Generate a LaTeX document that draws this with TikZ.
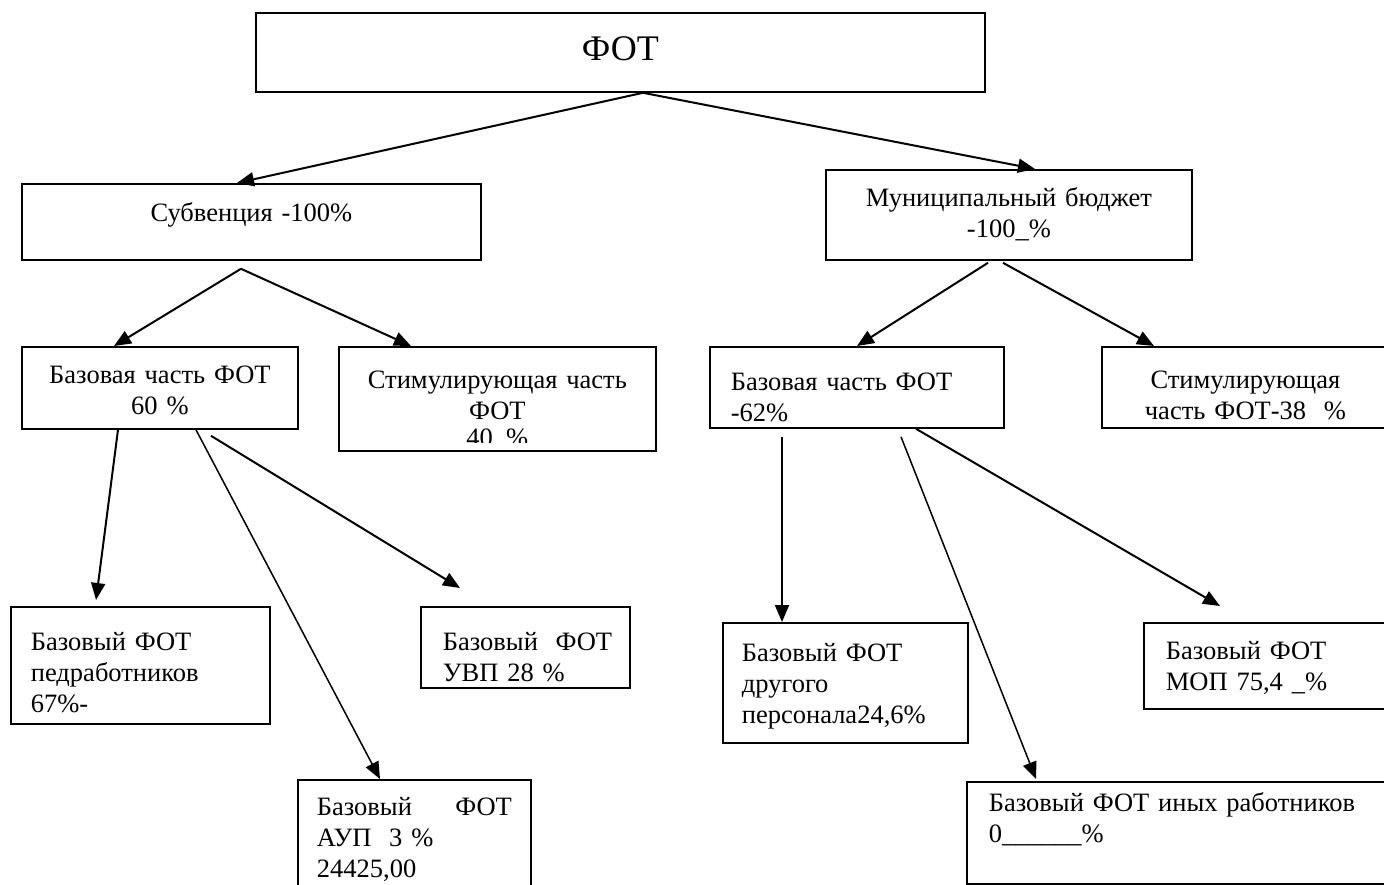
\documentclass[tikz,border=0pt]{standalone}
\usepackage{fontspec}
\setmainfont{Liberation Serif}
\usetikzlibrary{arrows.meta}

\begin{document}
\begin{tikzpicture}[x=1pt,y=-1pt,
  font=\fontsize{26.5}{31}\selectfont,
  box/.style={draw,line width=1.8pt,anchor=north west,inner ysep=0pt},
  arr/.style={-{Triangle[length=17pt,width=14pt]},line width=2pt},
  thinarr/.style={arr,line width=1.5pt}]
  \useasboundingbox (0,0) rectangle (1384,885);

  % create the nodes
  \node (fot) [box,text width=729pt,inner xsep=0pt,align=center,text height=48pt,text depth=31pt,font=\fontsize{36}{40}\selectfont] at (255,12) {ФОТ};

  \node (subv) [box,text width=459pt,inner xsep=0pt,align=center,text height=38pt,text depth=38pt] at (21,183) {Субвенция -100\%};
  \node (mun) [box,text width=366pt,inner xsep=0pt,align=center,text height=37pt,text depth=53pt] at (825,169) {Муниципальный бюджет\\-100\_\%};

  \node (bazS) [box,text width=276pt,inner xsep=0pt,align=center,text height=37pt,text depth=45pt] at (21,346) {Базовая часть ФОТ\hspace*{12pt}\\60 \%};
  \node (stimS) [box,text width=317pt,inner xsep=0pt,align=center,text height=42pt,text depth=62pt] at (338,346) {Стимулирующая часть\\ФОТ};
  \node (bazM) [box,text width=252pt,inner xsep=21pt,align=left,text height=44pt,text depth=37pt] at (709,346) {Базовая часть ФОТ\\-62\%};
  \node (stimM) [box,text width=287pt,inner xsep=0pt,align=center,text height=42pt,text depth=39pt] at (1101,346) {Стимулирующая\\часть ФОТ-38~~\%};

  \node (ped) [box,text width=219pt,inner xsep=20pt,align=left,text height=44pt,text depth=73pt] at (10,606) {Базовый ФОТ\\педработников\\67\%-};
  \node (uvp) [box,text width=165pt,inner xsep=22pt,align=left,text height=44pt,text depth=37pt] at (420,606) {Базовый~~ФОТ\\УВП 28 \%};
  \node (aup) [box,text width=195pt,inner xsep=19pt,align=left,text height=36pt,text depth=85pt] at (297,779) {Базовый\hskip 0pt plus 1filll ФОТ\\АУП~~3 \%\\24425,00};

  \node (drug) [box,text width=207pt,inner xsep=19pt,align=left,text height=39pt,text depth=81pt] at (722,622) {Базовый ФОТ\\другого\\персонала24,6\%};
  \node (inyh) [box,text width=376pt,inner xsep=22pt,align=left,text height=30pt,text depth=72pt] at (966,781) {Базовый ФОТ иных работников\\0\_\_\_\_\_\_\%};
  \node (mop) [box,text width=203pt,inner xsep=22pt,align=left,text height=37pt,text depth=49pt] at (1143,622) {Базовый ФОТ\\МОП 75,4 \_\%};

  % last line of the box is cut off
  \begin{scope}
    \clip ([yshift=2pt]stimS.north west) rectangle ([yshift=9pt]stimS.south east);
    \node (stimSpct) [anchor=base] at ([yshift=-100pt]stimS.north) {40~~\%};
  \end{scope}

  % connect the nodes
  \draw[arr] ([xshift=388pt]fot.south west) -- ([xshift=216pt]subv.north west);
  \draw[arr] ([xshift=388pt]fot.south west) -- ([xshift=210pt]mun.north west);

  \draw[arr] ([xshift=220pt,yshift=-8pt]subv.south west) -- ([xshift=93pt]bazS.north west);
  \draw[arr] ([xshift=220pt,yshift=-8pt]subv.south west) -- ([xshift=73pt]stimS.north west);
  \draw[arr] ([xshift=163pt,yshift=-2pt]mun.south west) -- ([xshift=148pt]bazM.north west);
  \draw[arr] ([xshift=178pt,yshift=-2pt]mun.south west) -- ([xshift=53pt]stimM.north west);

  \draw[arr] ([xshift=97pt]bazS.south west) -- ([xshift=86pt,yshift=6pt]ped.north west);
  \draw[thinarr] ([xshift=175pt]bazS.south west) -- ([xshift=83pt]aup.north west);
  \draw[arr] ([xshift=190pt,yshift=-6pt]bazS.south west) -- ([xshift=40pt,yshift=18pt]uvp.north west);

  \draw[arr] ([xshift=73pt,yshift=-8pt]bazM.south west) -- ([xshift=60pt]drug.north west);
  \draw[thinarr] ([xshift=192pt,yshift=-8pt]bazM.south west) -- ([xshift=70pt,yshift=2pt]inyh.north west);
  \draw[arr] ([xshift=207pt]bazM.south west) -- ([xshift=77pt,yshift=16pt]mop.north west);
\end{tikzpicture}
\end{document}
